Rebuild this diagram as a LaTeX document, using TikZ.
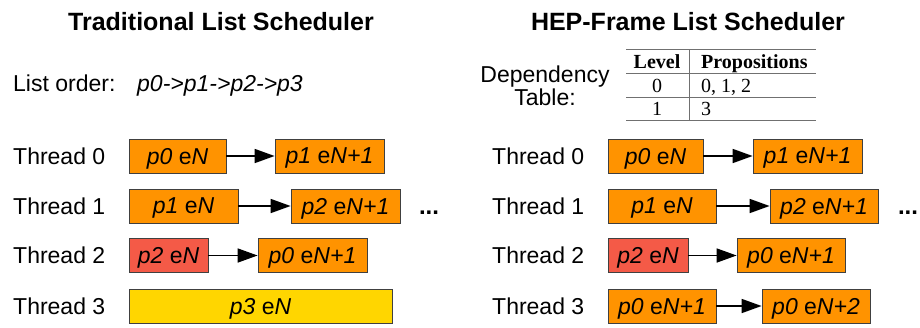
\documentclass[tikz,border=0pt]{standalone}
\usepackage{fontspec}
\setmainfont{Liberation Sans}
\newfontfamily\tabfont{Liberation Serif}
\usetikzlibrary{arrows.meta}
\definecolor{boxorange}{HTML}{FF9300}
\definecolor{boxred}{HTML}{F45A47}
\definecolor{boxyellow}{HTML}{FFD600}
\definecolor{rulegray}{HTML}{707070}
\tikzset{
  pbox/.style={draw=black!75, line width=0.8pt, fill=boxorange, inner sep=0pt,
    minimum height=34pt, text depth=0pt,
    font=\fontsize{23}{27}\selectfont},
  redbox/.style={pbox, fill=boxred},
  yellowbox/.style={pbox, fill=boxyellow},
  lbl/.style={font=\fontsize{23}{27}\selectfont, inner sep=0pt},
  ttl/.style={font=\fontsize{25}{29}\selectfont\bfseries, inner sep=0pt},
  tabtxt/.style={font=\tabfont\fontsize{20}{24}\selectfont, inner sep=0pt},
  flow/.style={line width=1.7pt, -{Triangle[length=20pt,width=14pt]}},
  dotstxt/.style={font=\fontsize{24}{28}\selectfont\bfseries, inner sep=0pt},
}
\newcommand{\pe}[2]{\textit{p#1} e\textit{#2}}
\begin{document}
\begin{tikzpicture}[x=1pt,y=-1pt]
\useasboundingbox[fill=white] (0,0) rectangle (920,327);

% titles
\node[ttl, anchor=base] (t1) at (221,30) {Traditional List Scheduler};
\node[ttl, anchor=base] (t2) at (688,30) {HEP-Frame List Scheduler};

% list order
\node[lbl, anchor=base west] (lo) at (13,91) {List order:};
\node[lbl, anchor=base west] (lorder) at (137,91) {\textit{p0->p1->p2->p3}};

% dependency table label
\node[lbl, anchor=base] (dep1) at (545,82) {Dependency};
\node[lbl, anchor=base] (dep2) at (545,105) {Table:};

% table
\draw[rulegray, line width=0.9pt] (626,49) -- (816,49);
\draw[rulegray, line width=0.9pt] (626,73) -- (816,73);
\draw[rulegray, line width=0.9pt] (626,97) -- (816,97);
\draw[rulegray, line width=0.9pt] (626,120) -- (816,120);
\draw[rulegray, line width=0.9pt] (689,49) -- (689,120);
\node[tabtxt, anchor=base] (h1) at (657,68) {\bfseries Level};
\node[tabtxt, anchor=base west] (h2) at (701,68) {\bfseries Propositions};
\node[tabtxt, anchor=base] (r0a) at (657,92) {0};
\node[tabtxt, anchor=base west] (r0b) at (701,92) {0, 1, 2};
\node[tabtxt, anchor=base] (r1a) at (657,115) {1};
\node[tabtxt, anchor=base west] (r1b) at (701,115) {3};

% left thread labels
\node[lbl, anchor=west] (lt0) at (13,156) {Thread 0};
\node[lbl, anchor=west] (lt1) at (13,206) {Thread 1};
\node[lbl, anchor=west] (lt2) at (13,255.5) {Thread 2};
\node[lbl, anchor=west] (lt3) at (13,306) {Thread 3};

% right thread labels
\node[lbl, anchor=west] (rt0) at (492,156) {Thread 0};
\node[lbl, anchor=west] (rt1) at (492,206) {Thread 1};
\node[lbl, anchor=west] (rt2) at (492,255.5) {Thread 2};
\node[lbl, anchor=west] (rt3) at (492,306) {Thread 3};

% left boxes
\node[pbox, minimum width=97pt] (l0a) at (177.5,156) {\pe{0}{N}};
\node[pbox, minimum width=109pt] (l0b) at (329.5,156) {\pe{1}{N+1}};
\node[pbox, minimum width=109pt] (l1a) at (183.5,206) {\pe{1}{N}};
\node[pbox, minimum width=109pt] (l1b) at (345.5,206) {\pe{2}{N+1}};
\node[redbox, minimum width=79pt] (l2a) at (168.5,255.5) {\pe{2}{N}};
\node[pbox, minimum width=109pt] (l2b) at (312.5,255.5) {\pe{0}{N+1}};
\node[yellowbox, minimum width=263pt] (l3a) at (260.5,306) {\pe{3}{N}};

\draw[flow] (l0a) -- (l0b);
\draw[flow] (l1a) -- (l1b);
\draw[flow] (l2a) -- (l2b);

\node[dotstxt, anchor=base] (ldots) at (429,214) {...};

% right boxes
\node[pbox, minimum width=95pt] (r0x) at (655.5,156) {\pe{0}{N}};
\node[pbox, minimum width=109pt] (r0y) at (807.5,156) {\pe{1}{N+1}};
\node[pbox, minimum width=108pt] (r1x) at (662,206) {\pe{1}{N}};
\node[pbox, minimum width=108pt] (r1y) at (824,206) {\pe{2}{N+1}};
\node[redbox, minimum width=80pt] (r2x) at (648,255.5) {\pe{2}{N}};
\node[pbox, minimum width=108pt] (r2y) at (791,255.5) {\pe{0}{N+1}};
\node[pbox, minimum width=108pt] (r3x) at (662,306) {\pe{0}{N+1}};
\node[pbox, minimum width=108pt] (r3y) at (816,306) {\pe{0}{N+2}};

\draw[flow] (r0x) -- (r0y);
\draw[flow] (r1x) -- (r1y);
\draw[flow] (r2x) -- (r2y);
\draw[flow] (r3x) -- (r3y);

\node[dotstxt, anchor=base] (rdots) at (908,214) {...};
\end{tikzpicture}
\end{document}
